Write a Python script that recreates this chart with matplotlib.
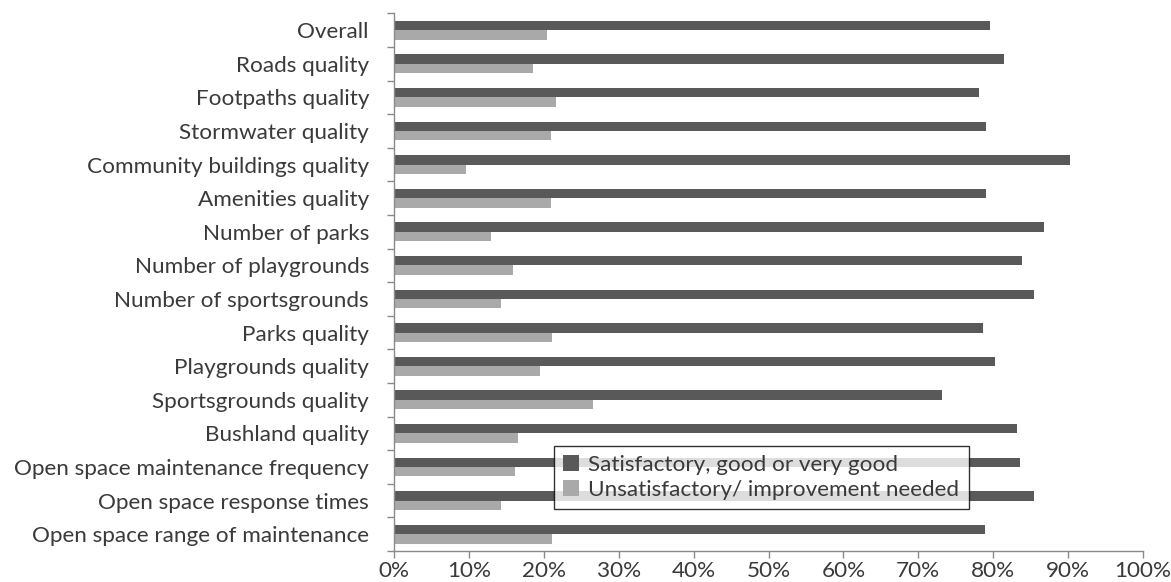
import matplotlib
matplotlib.use("Agg")
import matplotlib.pyplot as plt
import numpy as np

categories = [
    "Overall",
    "Roads quality",
    "Footpaths quality",
    "Stormwater quality",
    "Community buildings quality",
    "Amenities quality",
    "Number of parks",
    "Number of playgrounds",
    "Number of sportsgrounds",
    "Parks quality",
    "Playgrounds quality",
    "Sportsgrounds quality",
    "Bushland quality",
    "Open space maintenance frequency",
    "Open space response times",
    "Open space range of maintenance",
]
satisfactory = [79.6, 81.4, 78.1, 79.1, 90.3, 79.1, 86.8, 83.8, 85.4, 78.7, 80.3, 73.2, 83.2, 83.6, 85.4, 78.9]
unsatisfactory = [20.4, 18.5, 21.6, 20.9, 9.6, 20.9, 13.0, 15.9, 14.3, 21.1, 19.5, 26.6, 16.5, 16.2, 14.3, 21.1]
series_names = ["Satisfactory, good or very good", "Unsatisfactory/ improvement needed"]
xticks = list(range(0, 101, 10))
xticklabels = [f"{v}%" for v in xticks]

plt.rcParams["font.family"] = ["Lato", "DejaVu Sans"]
FS = 16.2
TXT = "#3a3a3a"
AX = "#8a8a8a"

fig = plt.figure(figsize=(11.71, 5.82), dpi=100)
ax = fig.add_axes([394 / 1171, 1 - 551 / 582, (1143 - 394) / 1171, (551 - 13.3) / 582])

n = len(categories)
y = np.arange(n)
h = 0.28
ax.barh(y - h / 2, satisfactory, height=h, color="#595959", label=series_names[0])
ax.barh(y + h / 2, unsatisfactory, height=h, color="#a9a9a9", label=series_names[1])

ax.set_ylim(n - 0.5, -0.5)
ax.set_xlim(0, 100)
ax.set_yticks(y)
ax.set_yticklabels(categories, fontsize=FS, color=TXT)
ax.set_yticks(np.arange(-0.5, n, 1), minor=True)
ax.tick_params(axis="y", which="major", length=0, pad=18)
ax.tick_params(axis="y", which="minor", length=5, color=AX, width=1)
ax.set_xticks(xticks)
ax.set_xticklabels(xticklabels, fontsize=FS, color=TXT)
ax.tick_params(axis="x", length=5, color=AX, width=1, pad=2)

for s in ["top", "right"]:
    ax.spines[s].set_visible(False)
for s in ["left", "bottom"]:
    ax.spines[s].set_color(AX)
    ax.spines[s].set_linewidth(1)

leg = ax.legend(loc="lower left", bbox_to_anchor=(0.2136, 0.078), fontsize=FS,
                frameon=True, fancybox=False, edgecolor="black", borderpad=0.42,
                handlelength=0.7, handleheight=0.7, handletextpad=0.4, labelspacing=0.2,
                borderaxespad=0)
leg.get_frame().set_linewidth(1)
for t in leg.get_texts():
    t.set_color(TXT)

fig.savefig("out.png", dpi=100)
